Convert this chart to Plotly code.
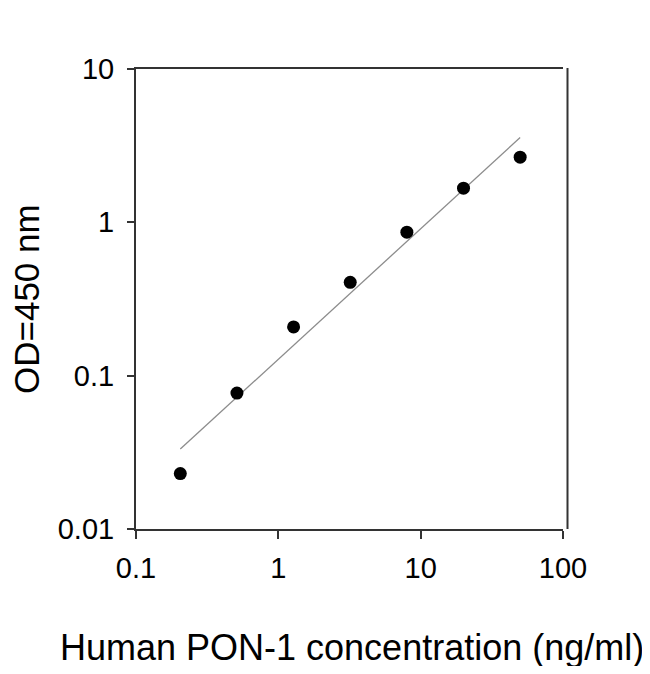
import numpy as np
import plotly.graph_objects as go

# standard curve: concentration (ng/ml) vs OD at 450 nm
conc = [0.2048, 0.512, 1.28, 3.2, 8.0, 20.0, 50.0]
od = [0.023, 0.077, 0.208, 0.406, 0.863, 1.67, 2.66]

tick_vals_x = [0.1, 1, 10, 100]
tick_text_x = ["0.1", "1", "10", "100"]
tick_vals_y = [0.01, 0.1, 1, 10]
tick_text_y = ["0.01", "0.1", "1", "10"]

# log-log linear regression for the fitted line
b, a = np.polyfit(np.log10(conc), np.log10(od), 1)
fit_x = np.array([conc[0], conc[-1]])
fit_y = 10 ** (a + b * np.log10(fit_x))

FONT = "Liberation Sans, Arial, sans-serif"
axis_col = "#333333"

fig = go.Figure()
fig.add_trace(go.Scatter(x=fit_x, y=fit_y, mode="lines",
                         line=dict(color="#8c8c8c", width=1.3),
                         hoverinfo="skip", showlegend=False))
fig.add_trace(go.Scatter(x=conc, y=od, mode="markers",
                         marker=dict(color="black", size=13),
                         showlegend=False))

# page body has an 8px margin, so the figure is drawn 8px in from the corner
OFF = 8
W, H = 650 - 2 * OFF, 674 - 2 * OFF
L, R, T, B = 136 - OFF, 563 - OFF, 69 - OFF, 529 - OFF
pw, ph = R - L, B - T

fig.update_layout(
    width=W, height=H,
    margin=dict(l=L, r=W - R, t=T, b=H - B),
    paper_bgcolor="white", plot_bgcolor="white",
    font=dict(family=FONT, color="black"),
    xaxis=dict(type="log", range=[-1, 2], tickvals=tick_vals_x, ticktext=tick_text_x,
               showgrid=False, zeroline=False, showline=True, linecolor=axis_col,
               linewidth=2, mirror=True, ticks="outside", ticklen=8, tickwidth=2,
               tickcolor=axis_col, tickfont=dict(size=29, family=FONT),
               ticklabelstandoff=4),
    yaxis=dict(type="log", range=[-2, 1], tickvals=tick_vals_y, ticktext=tick_text_y,
               showgrid=False, zeroline=False, showline=True, linecolor=axis_col,
               linewidth=2, ticks="outside", ticklen=7, tickwidth=2,
               tickcolor=axis_col, tickfont=dict(size=29, family=FONT),
               ticklabelstandoff=7),
)

# right border sits a few pixels beyond the end of the x axis
fig.add_shape(type="line", xref="paper", yref="paper",
              x0=(567.5 - OFF - L) / pw, x1=(567.5 - OFF - L) / pw, y0=0, y1=1.002,
              line=dict(color=axis_col, width=2))

fig.add_annotation(text="Human PON-1 concentration (ng/ml)", xref="paper", yref="paper",
                   x=(352 - OFF - L) / pw, y=(B - (647 - OFF)) / ph,
                   xanchor="center", yanchor="middle",
                   showarrow=False, font=dict(size=36, family=FONT))
fig.add_annotation(text="OD=450 nm", xref="paper", yref="paper",
                   x=(26 - OFF - L) / pw, y=(B - (299 - OFF)) / ph,
                   xanchor="center", yanchor="middle",
                   textangle=-90, showarrow=False, font=dict(size=35, family=FONT))

fig.write_html("out.html")
